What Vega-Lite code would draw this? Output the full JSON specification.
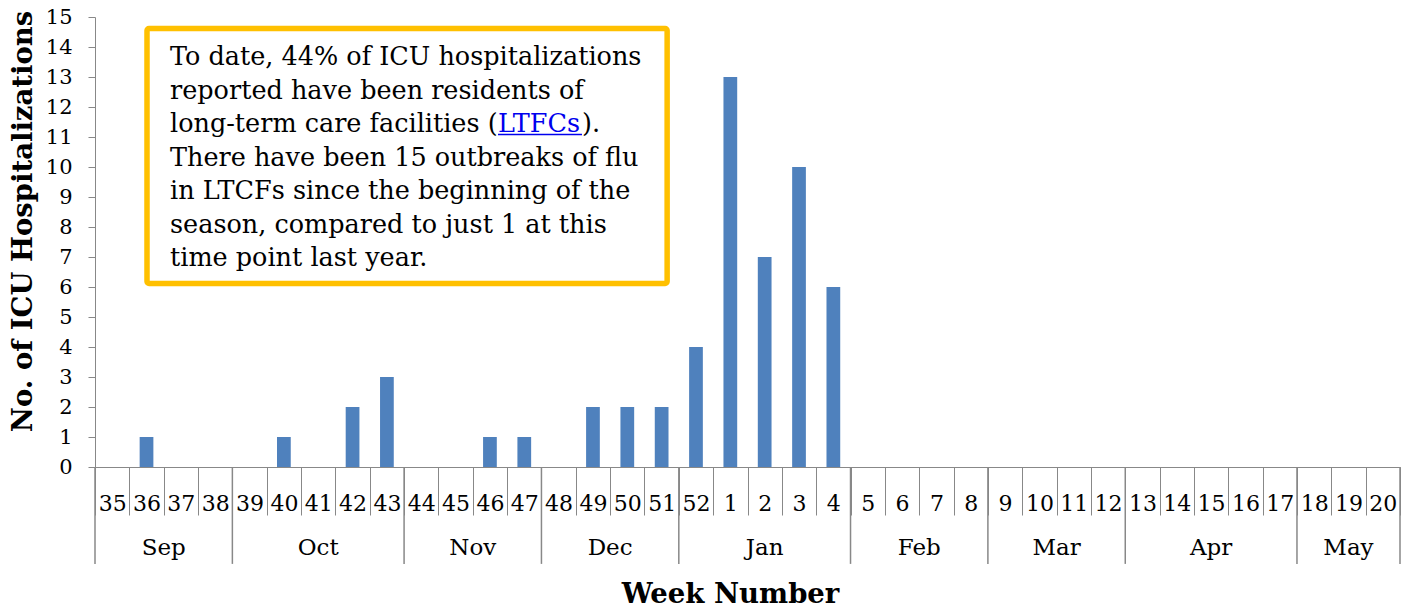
{
  "$schema": "https://vega.github.io/schema/vega-lite/v6.json",
  "autosize": {"type": "none"},
  "width": 1305,
  "height": 450,
  "padding": {"left": 95, "top": 17, "right": 14, "bottom": 141},
  "background": "white",
  "config": {
    "view": {"stroke": null},
    "font": "DejaVu Serif",
    "axis": {"labelFont": "DejaVu Serif", "titleFont": "DejaVu Serif", "labelColor": "black", "titleColor": "black", "domainColor": "#888888", "tickColor": "#888888", "grid": false},
    "axisY": {"tickCount": 16, "labelOverlap": false, "labelFlush": false, "labelFontSize": 21, "labelPadding": 16, "tickSize": 7},
    "axisX": {"labelFontSize": 22, "labelOverlap": false, "labelAngle": 0}
  },
  "datasets": {
    "weeks": [
      {"week": "35", "icu": 0}, {"week": "36", "icu": 1}, {"week": "37", "icu": 0}, {"week": "38", "icu": 0},
      {"week": "39", "icu": 0}, {"week": "40", "icu": 1}, {"week": "41", "icu": 0}, {"week": "42", "icu": 2},
      {"week": "43", "icu": 3}, {"week": "44", "icu": 0}, {"week": "45", "icu": 0}, {"week": "46", "icu": 1},
      {"week": "47", "icu": 1}, {"week": "48", "icu": 0}, {"week": "49", "icu": 2}, {"week": "50", "icu": 2},
      {"week": "51", "icu": 2}, {"week": "52", "icu": 4}, {"week": "1", "icu": 13}, {"week": "2", "icu": 7},
      {"week": "3", "icu": 10}, {"week": "4", "icu": 6}, {"week": "5", "icu": 0}, {"week": "6", "icu": 0},
      {"week": "7", "icu": 0}, {"week": "8", "icu": 0}, {"week": "9", "icu": 0}, {"week": "10", "icu": 0},
      {"week": "11", "icu": 0}, {"week": "12", "icu": 0}, {"week": "13", "icu": 0}, {"week": "14", "icu": 0},
      {"week": "15", "icu": 0}, {"week": "16", "icu": 0}, {"week": "17", "icu": 0}, {"week": "18", "icu": 0},
      {"week": "19", "icu": 0}, {"week": "20", "icu": 0}
    ],
    "months": [
      {"month": "Sep", "start": "35", "mid": "37", "pos": "edge"},
      {"month": "Oct", "start": "39", "mid": "41", "pos": "center"},
      {"month": "Nov", "start": "44", "mid": "46", "pos": "edge"},
      {"month": "Dec", "start": "48", "mid": "50", "pos": "edge"},
      {"month": "Jan", "start": "52", "mid": "2", "pos": "center"},
      {"month": "Feb", "start": "5", "mid": "7", "pos": "edge"},
      {"month": "Mar", "start": "9", "mid": "11", "pos": "edge"},
      {"month": "Apr", "start": "13", "mid": "15", "pos": "center"},
      {"month": "May", "start": "18", "mid": "19", "pos": "center"}
    ],
    "note": [
      {"top": ["To date, 44% of ICU hospitalizations", "reported have been residents of"], "bottom": ["There have been 15 outbreaks of flu", "in LTCFs since the beginning of the", "season, compared to just 1 at this", "time point last year."], "pre": "long-term care facilities (", "link": "LTFCs", "post": ")."}
    ]
  },
  "layer": [
    {
      "data": {"name": "weeks"},
      "mark": {"type": "bar", "width": {"band": 0.4}, "color": "#4F81BD"},
      "encoding": {
        "x": {
          "field": "week", "type": "nominal",
          "scale": {"domain": ["35","36","37","38","39","40","41","42","43","44","45","46","47","48","49","50","51","52","1","2","3","4","5","6","7","8","9","10","11","12","13","14","15","16","17","18","19","20"], "paddingInner": 0, "paddingOuter": 0},
          "axis": {"title": "Week Number", "titleFontSize": 27.5, "titleFontWeight": "bold", "titlePadding": 65, "titleX": 635, "labelAngle": 0, "labelFontSize": 22, "labelBaseline": "middle", "labelPadding": -12, "labelOverlap": false, "tickBand": "extent", "tickSize": 48}
        },
        "y": {
          "field": "icu", "type": "quantitative",
          "scale": {"domain": [0, 15], "nice": false},
          "axis": {"title": "No. of ICU Hospitalizations", "titleFontSize": 27.5, "titleFontWeight": "bold", "titlePadding": 8, "titleY": 204, "values": [0,1,2,3,4,5,6,7,8,9,10,11,12,13,14,15], "tickCount": 16, "labelOverlap": false, "labelFlush": false, "labelFontSize": 21, "labelPadding": 16, "tickSize": 7}
        }
      }
    },
    {
      "data": {"name": "months"},
      "mark": {"type": "rule", "color": "#888888", "strokeWidth": 1.5},
      "encoding": {
        "x": {"field": "start", "type": "nominal", "bandPosition": 0},
        "y": {"datum": 0},
        "y2": {"datum": -3.23}
      }
    },
    {
      "data": {"name": "note"},
      "mark": {"type": "rule", "color": "#888888", "strokeWidth": 1.5},
      "encoding": {
        "x": {"datum": "20", "bandPosition": 1},
        "y": {"datum": 0},
        "y2": {"datum": -3.23}
      }
    },
    {
      "data": {"name": "months"},
      "transform": [{"filter": "datum.pos == 'edge'"}],
      "mark": {"type": "text", "fontSize": 23, "color": "black", "baseline": "middle"},
      "encoding": {
        "x": {"field": "mid", "type": "nominal", "bandPosition": 0},
        "y": {"datum": -2.7},
        "text": {"field": "month"}
      }
    },
    {
      "data": {"name": "months"},
      "transform": [{"filter": "datum.pos == 'center'"}],
      "mark": {"type": "text", "fontSize": 23, "color": "black", "baseline": "middle"},
      "encoding": {
        "x": {"field": "mid", "type": "nominal", "bandPosition": 0.5},
        "y": {"datum": -2.7},
        "text": {"field": "month"}
      }
    },
    {
      "data": {"name": "note"},
      "mark": {"type": "rect", "fill": "white", "stroke": "#FFC000", "strokeWidth": 5.5, "cornerRadius": 2},
      "encoding": {
        "x": {"datum": "36", "bandPosition": 0.514},
        "x2": {"datum": "51", "bandPosition": 0.66},
        "y": {"datum": 14.617},
        "y2": {"datum": 6.117}
      }
    },
    {
      "data": {"name": "note"},
      "mark": {"type": "text", "fontSize": 25.5, "color": "black", "align": "left", "baseline": "alphabetic", "lineHeight": 33.5},
      "encoding": {
        "x": {"datum": "37", "bandPosition": 0.184},
        "y": {"datum": 13.4},
        "text": {"field": "top"}
      }
    },
    {
      "data": {"name": "note"},
      "mark": {"type": "text", "fontSize": 25.5, "color": "black", "align": "left", "baseline": "alphabetic", "lineHeight": 33.5},
      "encoding": {
        "x": {"datum": "37", "bandPosition": 0.184},
        "y": {"datum": 10.05},
        "text": {"field": "bottom"}
      }
    },
    {
      "data": {"name": "note"},
      "mark": {"type": "text", "fontSize": 25.5, "color": "black", "align": "left", "baseline": "alphabetic"},
      "encoding": {
        "x": {"datum": "37", "bandPosition": 0.184},
        "y": {"datum": 11.167},
        "text": {"field": "pre"}
      }
    },
    {
      "data": {"name": "note"},
      "mark": {"type": "text", "fontSize": 25.5, "color": "#0000EE", "align": "left", "baseline": "alphabetic"},
      "encoding": {
        "x": {"datum": "46", "bandPosition": 0.735},
        "y": {"datum": 11.167},
        "text": {"field": "link"}
      }
    },
    {
      "data": {"name": "note"},
      "mark": {"type": "rule", "color": "#0000EE", "strokeWidth": 1.5},
      "encoding": {
        "x": {"datum": "46", "bandPosition": 0.735},
        "x2": {"datum": "49", "bandPosition": 0.18},
        "y": {"datum": 11.083}
      }
    },
    {
      "data": {"name": "note"},
      "mark": {"type": "text", "fontSize": 25.5, "color": "black", "align": "left", "baseline": "alphabetic"},
      "encoding": {
        "x": {"datum": "49", "bandPosition": 0.18},
        "y": {"datum": 11.167},
        "text": {"field": "post"}
      }
    }
  ]
}
